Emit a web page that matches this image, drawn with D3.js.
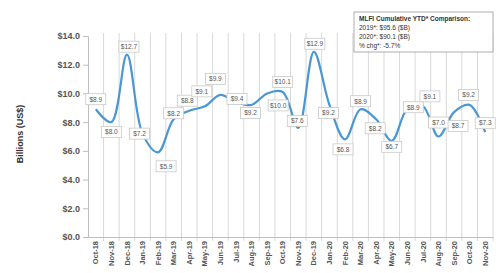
<!DOCTYPE html>
<html>
<head>
<meta charset="utf-8">
<script src="https://cdn.jsdelivr.net/npm/d3@7"></script>
<style>
  body { margin: 0; background: #fff; }
  svg { display: block; font-family: "Liberation Sans", Arial, sans-serif; }
</style>
</head>
<body>
<div id="chart"></div>
<script>
const months = ["Oct-18","Nov-18","Dec-18","Jan-19","Feb-19","Mar-19","Apr-19","May-19","Jun-19","Jul-19","Aug-19","Sep-19","Oct-19","Nov-19","Dec-19","Jan-20","Feb-20","Mar-20","Apr-20","May-20","Jun-20","Jul-20","Aug-20","Sep-20","Oct-20","Nov-20"];
const values = [8.9, 8.0, 12.7, 7.2, 5.9, 8.2, 8.8, 9.1, 9.9, 9.4, 9.2, 10.0, 10.1, 7.6, 12.9, 9.2, 6.8, 8.9, 8.2, 6.7, 8.9, 9.1, 7.0, 8.7, 9.2, 7.3];
const yTicks = [0, 2, 4, 6, 8, 10, 12, 14];
const legendLines = ["MLFI Cumulative YTD* Comparison:", "2019*: $95.6 ($B)", "2020*: $90.1 ($B)", "% chg*:  -5.7%"];

// where each value label sits relative to its point
const labelOffsets = [[0,-10],[0,10],[2,-8],[-3,0],[8,14],[0,-6],[-2,-10],[-3,-15],[-5,-16],[1,-3],[-1,8],[11,12],
  [0,-10],[-1,-7],[1,-8],[-1,8],[-2,10],[0,-8],[-1,9],[0,6],[6,-2],[7,-10],[0,-14],[4,14],[-1,-10],[0,-9]];

const svgWidth = 496;
const svgHeight = 273;

const svg = d3.select("#chart")
  .append("svg")
  .attr("width", svgWidth)
  .attr("height", svgHeight);

const x = d3.scaleBand()
  .domain(months)
  .range([88, 493]);

const y = d3.scaleLinear()
  .domain([0, 14])
  .range([237, 36]);

// vertical gridlines on category boundaries
const bounds = months.map(m => x(m)).concat([x.range()[1]]);
svg.append("g")
  .selectAll("line")
  .data(bounds.slice(1))
  .enter()
  .append("line")
  .attr("x1", d => d).attr("x2", d => d)
  .attr("y1", 33).attr("y2", 241)
  .attr("stroke", "#d9d9d9");

// y axis
const yAxis = svg.append("g")
  .attr("transform", "translate(88,0)")
  .call(d3.axisLeft(y).tickValues(yTicks).tickSize(5).tickFormat(d => "$" + d.toFixed(1)));
yAxis.select(".domain").attr("stroke", "#bfbfbf");
yAxis.selectAll(".tick line").attr("stroke", "#bfbfbf");
yAxis.selectAll("text")
  .attr("x", -8)
  .style("font-size", "9px")
  .style("font-weight", "bold")
  .attr("fill", "#555");

// x axis
const xAxis = svg.append("g")
  .attr("transform", "translate(0,237)")
  .call(d3.axisBottom(x).tickSize(0));
xAxis.select(".domain").attr("stroke", "#bfbfbf");
xAxis.selectAll("text")
  .attr("transform", "rotate(-90)")
  .attr("x", -4)
  .attr("y", 0)
  .attr("dy", "0.35em")
  .style("text-anchor", "end")
  .style("font-size", "7.5px")
  .style("font-weight", "bold")
  .attr("fill", "#555");

// y title
svg.append("text")
  .attr("transform", "translate(23,134) rotate(-90)")
  .style("text-anchor", "middle")
  .style("font-size", "9px")
  .style("font-weight", "bold")
  .attr("fill", "#333")
  .text("Billions (US$)");

// smoothed line
const line = d3.line()
  .x((d, i) => x(months[i]) + x.bandwidth() / 2)
  .y(d => y(d))
  .curve(d3.curveCatmullRom.alpha(0.5));

svg.append("path")
  .datum(values)
  .attr("d", line)
  .attr("fill", "none")
  .attr("stroke", "#4a97d4")
  .attr("stroke-width", 2.2);

// value labels
const lab = svg.append("g")
  .selectAll("g")
  .data(values)
  .enter()
  .append("g")
  .attr("transform", (d, i) => `translate(${x(months[i]) + x.bandwidth() / 2 + labelOffsets[i][0]},${y(d) + labelOffsets[i][1]})`);

lab.append("rect")
  .attr("x", -10).attr("y", -5.5)
  .attr("width", 20).attr("height", 11)
  .attr("fill", "#fff")
  .attr("stroke", "#c8c8c8")
  .attr("stroke-width", 0.8);

lab.append("text")
  .attr("dy", "0.35em")
  .style("text-anchor", "middle")
  .style("font-size", "6.5px")
  .attr("fill", "#555")
  .text(d => "$" + d.toFixed(1));

// comparison box
const legend = svg.append("g");
legend.append("rect")
  .attr("x", 354).attr("y", 12)
  .attr("width", 139).attr("height", 40)
  .attr("fill", "#fff")
  .attr("stroke", "#999")
  .attr("stroke-width", 0.8);

legend.selectAll("text")
  .data(legendLines)
  .enter()
  .append("text")
  .attr("x", 359)
  .attr("y", (d, i) => 21 + i * 9)
  .style("font-size", "6.5px")
  .style("font-weight", (d, i) => i === 0 ? "bold" : "normal")
  .attr("fill", "#333")
  .text(d => d);
</script>
</body>
</html>
